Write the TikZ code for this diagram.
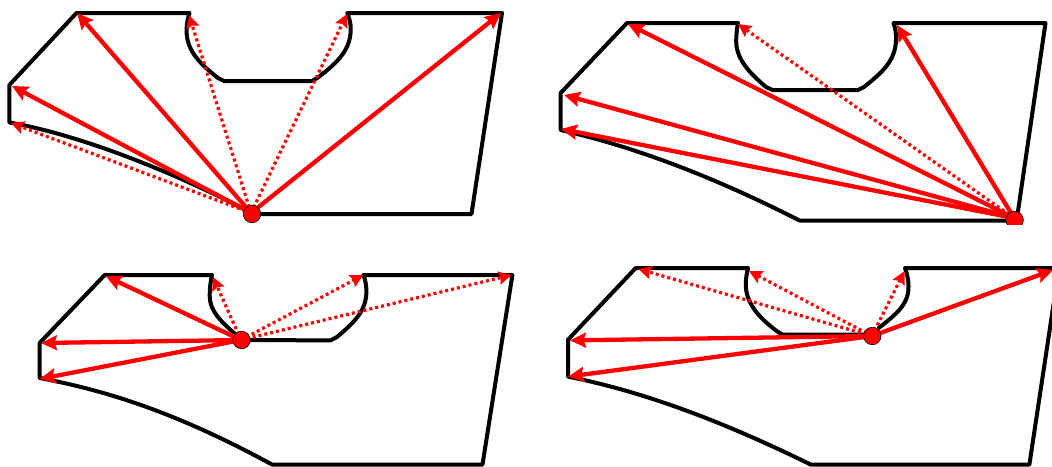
\documentclass[tikz,border=0pt]{standalone}
\usetikzlibrary{arrows.meta}
\tikzset{
  x=1pt,y=-1pt,
  outline/.style={draw=black,line width=4pt,line join=round},
  solidray/.style={draw=red,line width=4.3pt,-{Stealth[length=16pt,width=15pt,inset=2.5pt]}},
  dotray/.style={draw=red,line width=3.2pt,dash pattern=on 3pt off 3pt,-{Stealth[length=13pt,width=13pt,inset=2pt,sep=0pt]}},
  pivot/.style={circle,draw=black,line width=.6pt,fill=red,minimum size=17.5pt,inner sep=0pt}
}
\begin{document}
\begin{tikzpicture}
\useasboundingbox (0,0) rectangle (1052,466);
\clip (0,0) rectangle (1052,466);
% ---------- panel 1
\draw[outline] (252,214) -- (471.5,214) -- (502,13) -- (347.3,13)
  .. controls (349,18) and (351,23) .. (350.7,30)
  .. controls (350.5,52) and (334,65) .. (318,77.5) -- (312,81)
  -- (224,81) -- (218,78)
  .. controls (203,66) and (186,52) .. (186.6,30)
  .. controls (186.6,23) and (188,18) .. (189.5,13)
  -- (76.5,13) -- (9.4,85) -- (9.4,122.5)
  .. controls (70,133) and (160,165) .. (252,213);
\coordinate (c1) at (251,213);
\coordinate (a1) at (77,13);
\coordinate (a2) at (12,86);
\coordinate (a3) at (501,13);
\coordinate (a4) at (11,123);
\coordinate (a5) at (189,15);
\coordinate (a6) at (347,14);
\draw[solidray] (c1) -- (a1);
\draw[solidray] (c1) -- (a2);
\draw[solidray] (c1) -- (a3);
\draw[dotray] (c1) -- (a4);
\draw[dotray] (c1) -- (a5);
\draw[dotray] (c1) -- (a6);
\node[pivot] (p1) at (252,214) {};
% ---------- panel 2
\begin{scope}
\clip (530,0) rectangle (1052,224.5);
\draw[outline] (1015,220.5) -- (1017,218) -- (1045.5,23) -- (893.5,23)
  .. controls (895,28) and (896.5,33) .. (896,40)
  .. controls (895.5,62) and (880,74) .. (864,87) -- (858,90)
  -- (772.6,90) -- (766,87)
  .. controls (752,75) and (735.5,60) .. (736.2,40)
  .. controls (736.4,33) and (737,28) .. (738,23)
  -- (627,23) -- (560.6,93) -- (560.6,130)
  .. controls (640,148) and (720,180) .. (799.5,220.5)
  -- (1015,220.5);
\coordinate (c2) at (1014,218);
\coordinate (b1) at (628,24);
\coordinate (b2) at (564,95);
\coordinate (b3) at (561,129);
\coordinate (b4) at (897,25);
\coordinate (b5) at (738,24);
\draw[solidray] (c2) -- (b1);
\draw[solidray] (c2) -- (b2);
\draw[solidray] (c2) -- (b3);
\draw[solidray] (c2) -- (b4);
\draw[dotray] (c2) -- (b5);
\node[pivot] (p2) at (1014.6,220) {};
\end{scope}
% ---------- panel 3
\draw[outline] (241,340) -- (330.5,340.4) -- (337,337)
  .. controls (352,324) and (367,312) .. (366.4,290)
  .. controls (366.2,284) and (365,279) .. (363.4,275)
  -- (512.4,275) -- (482.5,464.5) -- (272,464.5)
  .. controls (190,420) and (120,393) .. (39.6,378)
  -- (39.6,343) -- (104.7,275) -- (212,275)
  .. controls (210.5,282) and (209.7,288) .. (209.7,295)
  .. controls (209.5,312) and (222,322) .. (235,334);
\coordinate (c3) at (241,340);
\coordinate (d1) at (105.7,276);
\coordinate (d2) at (41,343);
\coordinate (d3) at (39.6,379);
\coordinate (d4) at (213,277);
\coordinate (d5) at (363.4,275);
\coordinate (d6) at (511.7,275);
\draw[solidray] (c3) -- (d1);
\draw[solidray] (c3) -- (d2);
\draw[solidray] (c3) -- (d3);
\draw[dotray] (c3) -- (d4);
\draw[dotray] (c3) -- (d5);
\draw[dotray] (c3) -- (d6);
\node[pivot] (p3) at (241.6,340) {};
% ---------- panel 4
\draw[outline] (872,334.7) -- (782.7,334.7) -- (778,332)
  .. controls (762,320) and (745.5,305) .. (745.8,284)
  .. controls (745.9,278) and (746.8,273) .. (748,268)
  -- (635.7,268) -- (568,339.7) -- (568,376.6)
  .. controls (650,393) and (730,425) .. (810.6,464.5)
  -- (1029.4,464.5) -- (1059,268) -- (905,268)
  .. controls (907,273) and (908.5,280) .. (908.5,286)
  .. controls (909,305) and (895,315) .. (878,328.6);
\coordinate (c4) at (872,336);
\coordinate (e1) at (1053,270);
\coordinate (e2) at (570,340.4);
\coordinate (e3) at (568,376.6);
\coordinate (e4) at (638.4,269);
\coordinate (e5) at (749,271);
\coordinate (e6) at (904.5,271);
\draw[solidray] (c4) -- (e1);
\draw[solidray] (c4) -- (e2);
\draw[solidray] (c4) -- (e3);
\draw[dotray] (c4) -- (e4);
\draw[dotray] (c4) -- (e5);
\draw[dotray] (c4) -- (e6);
\node[pivot] (p4) at (872.3,336) {};
\end{tikzpicture}
\end{document}
